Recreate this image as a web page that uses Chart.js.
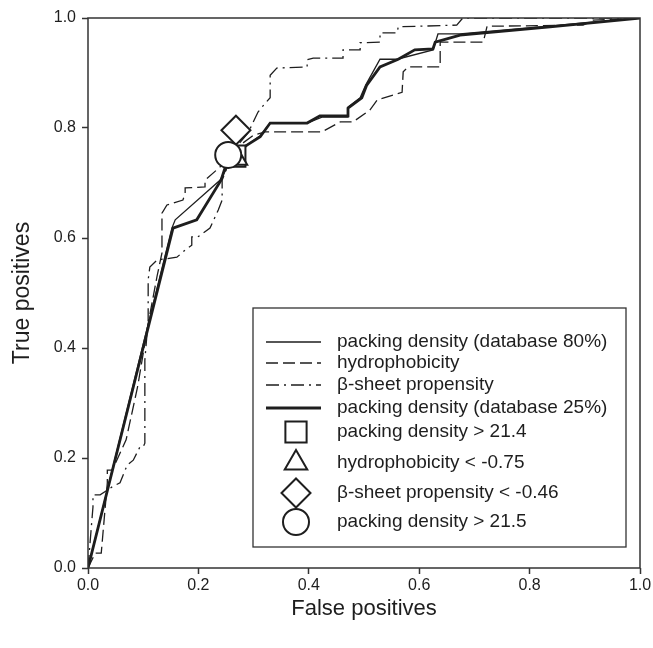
<!DOCTYPE html>
<html>
<head>
<meta charset="utf-8">
<script src="https://cdn.jsdelivr.net/npm/chart.js@4.4.0/dist/chart.umd.min.js"></script>
<style>
  html, body { margin: 0; padding: 0; background: #fff; }
  #wrap { width: 653px; height: 648px; }
  canvas { display: block; }
</style>
</head>
<body>
<div id="wrap"><canvas id="roc" width="653" height="648"></canvas></div>
<script>
// ROC curves (false positive rate / true positive rate)
const fprPacking80 = [0, 0.152, 0.158, 0.239, 0.262, 0.288, 0.312, 0.33, 0.397, 0.425, 0.471, 0.471, 0.493, 0.503, 0.529, 0.56, 0.625, 0.634, 0.674, 1];
const tprPacking80 = [0, 0.618, 0.633, 0.705, 0.745, 0.769, 0.786, 0.809, 0.809, 0.82, 0.82, 0.838, 0.855, 0.878, 0.925, 0.925, 0.942, 0.971, 0.971, 1];

const fprHydro = [0, 0.013, 0.024, 0.035, 0.035, 0.044, 0.069, 0.09, 0.11, 0.125, 0.134, 0.134, 0.143, 0.172, 0.176, 0.176, 0.212, 0.212, 0.239, 0.27, 0.30, 0.321, 0.424, 0.457, 0.48, 0.511, 0.524, 0.569, 0.571, 0.58, 0.638, 0.638, 0.647, 0.716, 0.723, 0.897, 0.915, 1];
const tprHydro = [0, 0.027, 0.027, 0.155, 0.178, 0.178, 0.233, 0.33, 0.45, 0.53, 0.573, 0.645, 0.66, 0.669, 0.682, 0.691, 0.693, 0.705, 0.729, 0.765, 0.787, 0.793, 0.793, 0.811, 0.811, 0.833, 0.851, 0.865, 0.902, 0.911, 0.911, 0.956, 0.956, 0.956, 0.985, 0.987, 0.996, 1];

const fprBeta = [0, 0.009, 0.009, 0.022, 0.043, 0.058, 0.071, 0.082, 0.094, 0.1, 0.103, 0.103, 0.109, 0.109, 0.112, 0.125, 0.161, 0.176, 0.188, 0.188, 0.199, 0.221, 0.236, 0.243, 0.243, 0.264, 0.29, 0.308, 0.321, 0.33, 0.33, 0.342, 0.397, 0.397, 0.408, 0.462, 0.462, 0.493, 0.493, 0.529, 0.529, 0.56, 0.562, 0.668, 0.679, 1];
const tprBeta = [0, 0.111, 0.133, 0.133, 0.147, 0.155, 0.187, 0.196, 0.22, 0.22, 0.227, 0.378, 0.451, 0.524, 0.547, 0.56, 0.565, 0.578, 0.587, 0.602, 0.602, 0.618, 0.651, 0.669, 0.705, 0.76, 0.791, 0.829, 0.845, 0.855, 0.896, 0.909, 0.911, 0.924, 0.927, 0.927, 0.942, 0.942, 0.955, 0.956, 0.973, 0.973, 0.984, 0.987, 1.0, 1];

const fprPacking25 = [0, 0.154, 0.197, 0.241, 0.254, 0.288, 0.312, 0.33, 0.397, 0.42, 0.471, 0.471, 0.496, 0.505, 0.529, 0.562, 0.592, 0.625, 0.629, 0.674, 0.837, 1];
const tprPacking25 = [0, 0.618, 0.633, 0.705, 0.745, 0.769, 0.784, 0.809, 0.809, 0.822, 0.822, 0.836, 0.855, 0.878, 0.911, 0.925, 0.942, 0.944, 0.956, 0.969, 0.984, 1];

// single cut-off points
const cutLabels = ['packing density > 21.4', 'hydrophobicity < -0.75', 'β-sheet propensity < -0.46', 'packing density > 21.5'];
const cutFpr = [0.266, 0.268, 0.268, 0.254];
const cutTpr = [0.749, 0.745, 0.796, 0.751];

const axisTicks = [0, 0.2, 0.4, 0.6, 0.8, 1.0];

const FONT = "'Liberation Sans', Arial, Helvetica, sans-serif";
const INK = '#1e1e1e';

function toPoints(xs, ys) {
    return xs.map((x, i) => ({ x: x, y: ys[i] }));
}

function lineSet(label, xs, ys, width, dash) {
    return {
        type: 'scatter',
        label: label,
        data: toPoints(xs, ys),
        showLine: true,
        borderColor: INK,
        borderWidth: width,
        borderDash: dash,
        pointRadius: 0,
        tension: 0,
        order: 10
    };
}

function markerSet(i, style, radius) {
    return {
        type: 'scatter',
        label: cutLabels[i],
        data: [{ x: cutFpr[i], y: cutTpr[i] }],
        pointStyle: style,
        pointRadius: radius,
        pointBorderWidth: 2,
        pointBorderColor: INK,
        pointBackgroundColor: '#fff',
        order: 4 - i
    };
}

// frame round the plot area
const framePlugin = {
    id: 'frame',
    afterDatasetsDraw(chart) {
        const { ctx, chartArea } = chart;
        ctx.save();
        ctx.strokeStyle = '#333';
        ctx.lineWidth = 1.5;
        ctx.strokeRect(chartArea.left, chartArea.top, chartArea.right - chartArea.left, chartArea.bottom - chartArea.top);
        ctx.restore();
    }
};

// boxed legend inside the plot, one entry per row
const legendPlugin = {
    id: 'boxLegend',
    afterDatasetsDraw(chart) {
        const { ctx, chartArea } = chart;
        const left = chartArea.left + 165;
        const top = chartArea.top + 290;
        const rows = [34, 55, 77, 100, 124, 155, 185, 214];
        ctx.save();
        ctx.fillStyle = '#fff';
        ctx.fillRect(left, top, 373, 239);
        ctx.strokeStyle = '#333';
        ctx.lineWidth = 1.3;
        ctx.strokeRect(left, top, 373, 239);

        chart.data.datasets.forEach((ds, i) => {
            const y = top + rows[i];
            ctx.strokeStyle = INK;
            if (ds.showLine) {
                ctx.lineWidth = ds.borderWidth;
                ctx.setLineDash(ds.borderDash || []);
                ctx.beginPath();
                ctx.moveTo(left + 13, y);
                ctx.lineTo(left + 68, y);
                ctx.stroke();
                ctx.setLineDash([]);
            } else {
                ctx.fillStyle = '#fff';
                ctx.lineWidth = 2;
                Chart.helpers.drawPoint(ctx, {
                    pointStyle: ds.pointStyle,
                    radius: ds.pointRadius,
                    rotation: 0,
                    borderWidth: 2
                }, left + 43, y);
            }
            ctx.fillStyle = INK;
            ctx.font = '19px ' + FONT;
            ctx.textBaseline = 'middle';
            ctx.textAlign = 'left';
            ctx.fillText(ds.label, left + 84, y);
        });
        ctx.restore();
    }
};

function axis(title, isX) {
    return {
        type: 'linear',
        min: 0,
        max: 1,
        afterBuildTicks: (scale) => { scale.ticks = axisTicks.map(v => ({ value: v })); },
        afterFit: (scale) => {
            // fixed axis sizes so the plot area sits where it does in the figure
            if (isX) scale.height = 80; else scale.width = 88;
            scale.paddingLeft = 0;
            scale.paddingRight = 0;
            scale.paddingTop = 0;
            scale.paddingBottom = 0;
        },
        ticks: {
            color: INK,
            font: { family: FONT, size: 16 },
            padding: isX ? 2 : 6,
            maxRotation: 0,
            callback: (v) => v.toFixed(1)
        },
        grid: {
            display: true,
            drawOnChartArea: false,
            drawTicks: true,
            tickLength: 6,
            tickWidth: 1.5,
            tickColor: '#333'
        },
        border: { display: false },
        title: {
            display: true,
            text: title,
            color: INK,
            font: { family: FONT, size: isX ? 22 : 23 },
            padding: isX ? { top: 0, bottom: 26 } : { top: 9, bottom: 0 }
        }
    };
}

const ctx = document.getElementById('roc').getContext('2d');
const rocChart = new Chart(ctx, {
    type: 'scatter',
    data: {
        datasets: [
            lineSet('packing density (database 80%)', fprPacking80, tprPacking80, 1.3, []),
            lineSet('hydrophobicity', fprHydro, tprHydro, 1.3, [12, 5]),
            lineSet('β-sheet propensity', fprBeta, tprBeta, 1.3, [13, 5, 2, 5]),
            lineSet('packing density (database 25%)', fprPacking25, tprPacking25, 2.8, []),
            markerSet(0, 'rect', 15),
            markerSet(1, 'triangle', 13),
            markerSet(2, 'rectRot', 14.5),
            markerSet(3, 'circle', 13)
        ]
    },
    options: {
        responsive: false,
        devicePixelRatio: 1,
        animation: false,
        layout: { autoPadding: false, padding: { top: 18, right: 13, left: 0, bottom: 0 } },
        plugins: {
            legend: { display: false },
            tooltip: { enabled: false }
        },
        scales: {
            x: axis('False positives', true),
            y: axis('True positives', false)
        }
    },
    plugins: [framePlugin, legendPlugin]
});
</script>
</body>
</html>
